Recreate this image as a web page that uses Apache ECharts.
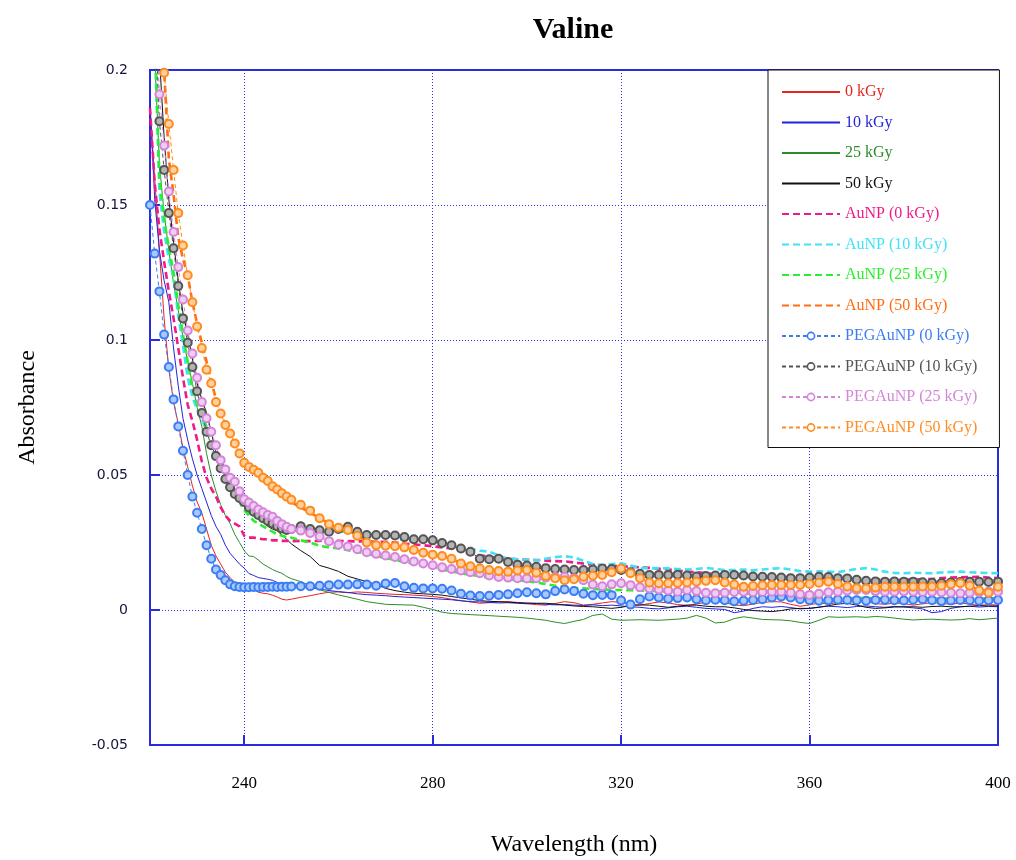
<!DOCTYPE html>
<html>
<head>
<meta charset="utf-8">
<title>Valine</title>
<script src="https://cdn.jsdelivr.net/npm/echarts@6/dist/echarts.min.js"></script>
<style>
  html, body { margin: 0; padding: 0; background: #ffffff; }
  #chart { width: 1016px; height: 860px; }
</style>
</head>
<body>
<div id="chart"></div>
<script>
// Wavelength grid (nm): 1 nm steps across the absorption edge, 2 nm steps afterwards
const wavelength = [
  220, 221, 222, 223, 224, 225, 226, 227, 228, 229,
  230, 231, 232, 233, 234, 235, 236, 237, 238, 239,
  240, 241, 242, 243, 244, 245, 246, 247, 248, 249, 250,
  252, 254, 256, 258, 260, 262, 264, 266, 268, 270,
  272, 274, 276, 278, 280, 282, 284, 286, 288, 290,
  292, 294, 296, 298, 300, 302, 304, 306, 308, 310,
  312, 314, 316, 318, 320, 322, 324, 326, 328, 330,
  332, 334, 336, 338, 340, 342, 344, 346, 348, 350,
  352, 354, 356, 358, 360, 362, 364, 366, 368, 370,
  372, 374, 376, 378, 380, 382, 384, 386, 388, 390,
  392, 394, 396, 398, 400
];

// Absorbance of valine solutions
const valine0 = [
  0.186, 0.160, 0.133, 0.108, 0.089, 0.077, 0.069, 0.060, 0.053, 0.046,
  0.040, 0.036, 0.030, 0.024, 0.020, 0.017, 0.014, 0.012, 0.0102, 0.0099,
  0.0096, 0.0085, 0.0075, 0.0066, 0.0062, 0.0060, 0.0055, 0.0048, 0.0040, 0.0037, 0.0040,
  0.0047, 0.0053, 0.0060, 0.0066, 0.0067, 0.0064, 0.0067, 0.0065, 0.0062, 0.0060,
  0.0058, 0.0057, 0.0055, 0.0053, 0.0050, 0.0046, 0.0040, 0.0035, 0.0030, 0.0025,
  0.0027, 0.0030, 0.0031, 0.0028, 0.0024, 0.0020, 0.0018, 0.0024, 0.0031, 0.0027,
  0.0018, 0.0021, 0.0026, 0.0031, 0.0028, 0.0022, 0.0018, 0.0024, 0.0030, 0.0026,
  0.0020, 0.0017, 0.0022, 0.0029, 0.0033, 0.0027, 0.0019, 0.0016, 0.0022, 0.0028,
  0.0031, 0.0030, 0.0021, 0.0014, 0.0019, 0.0026, 0.0022, 0.0028, 0.0035, 0.0037,
  0.0030, 0.0024, 0.0021, 0.0026, 0.0024, 0.0018, 0.0023, 0.0027, 0.0025, 0.0021,
  0.0026, 0.0022, 0.0017, 0.0020, 0.0018
];
const valine10 = [
  0.188, 0.152, 0.133, 0.122, 0.114, 0.097, 0.083, 0.071, 0.063, 0.056,
  0.050, 0.045, 0.040, 0.035, 0.031, 0.028, 0.024, 0.021, 0.019, 0.017,
  0.0155, 0.0135, 0.0128, 0.0120, 0.0117, 0.0114, 0.0110, 0.0102, 0.0097, 0.0093, 0.0090,
  0.0086, 0.0082, 0.0078, 0.0072, 0.0068, 0.0065, 0.0060, 0.0057, 0.0055, 0.0053,
  0.0050, 0.0048, 0.0046, 0.0044, 0.0042, 0.0040, 0.0038, 0.0034, 0.0031, 0.0030,
  0.0028, 0.0026, 0.0027, 0.0025, 0.0023, 0.0024, 0.0021, 0.0019, 0.0020, 0.0018,
  0.0017, 0.0019, 0.0016, 0.0018, 0.0015, 0.0012, 0.0010, 0.0006, 0.0004, 0.0008,
  0.0012, 0.0014, 0.0010, 0.0006, 0.0004, 0.0002, -0.0010, -0.0004, 0.0006, 0.0012,
  0.0010, 0.0013, 0.0009, 0.0004, 0.0006, 0.0011, 0.0014, 0.0012, 0.0009, 0.0013,
  0.0015, 0.0012, 0.0010, 0.0013, 0.0011, 0.0008, 0.0004, -0.0010, -0.0006, 0.0006,
  0.0012, 0.0014, 0.0011, 0.0013, 0.0012
];
const valine25 = [
  0.260, 0.205, 0.165, 0.147, 0.133, 0.121, 0.111, 0.101, 0.092, 0.084,
  0.075, 0.068, 0.058, 0.050, 0.044, 0.039, 0.035, 0.032, 0.028, 0.025,
  0.022, 0.0200, 0.0198, 0.0185, 0.0170, 0.0160, 0.0150, 0.0142, 0.0136, 0.0124, 0.0116,
  0.0105, 0.0090, 0.0075, 0.0065, 0.0056, 0.0048, 0.0040, 0.0031, 0.0026, 0.0021,
  0.0020, 0.0019, 0.0018, 0.0010, 0.0002, -0.0008, -0.0013, -0.0015, -0.0017, -0.0019,
  -0.0021, -0.0023, -0.0025, -0.0027, -0.0030, -0.0034, -0.0038, -0.0045, -0.0050, -0.0042,
  -0.0035, -0.0020, -0.0015, -0.0034, -0.0038, -0.0037, -0.0036, -0.0037, -0.0038, -0.0036,
  -0.0034, -0.0030, -0.0020, -0.0030, -0.0048, -0.0045, -0.0032, -0.0025, -0.0030, -0.0035,
  -0.0036, -0.0037, -0.0040, -0.0046, -0.0050, -0.0038, -0.0025, -0.0027, -0.0026, -0.0025,
  -0.0027, -0.0024, -0.0026, -0.0030, -0.0034, -0.0037, -0.0035, -0.0034, -0.0036, -0.0037,
  -0.0036, -0.0032, -0.0036, -0.0033, -0.0030
];
const valine50 = [
  0.270, 0.240, 0.205, 0.175, 0.152, 0.136, 0.122, 0.110, 0.102, 0.093,
  0.084, 0.078, 0.073, 0.066, 0.058, 0.054, 0.050, 0.047, 0.045, 0.042,
  0.0395, 0.0378, 0.0358, 0.0340, 0.0325, 0.0310, 0.0300, 0.0293, 0.0278, 0.0262, 0.0245,
  0.0220, 0.0198, 0.0165, 0.0155, 0.0143, 0.0125, 0.0115, 0.0105, 0.0095, 0.0080,
  0.0072, 0.0066, 0.0062, 0.0060, 0.0058, 0.0055, 0.0050, 0.0045, 0.0040, 0.0035,
  0.0032, 0.0031, 0.0029, 0.0027, 0.0026, 0.0025, 0.0025, 0.0022, 0.0018, 0.0015,
  0.0013, 0.0012, 0.0009, 0.0006, 0.0010, 0.0016, 0.0019, 0.0018, 0.0014, 0.0010,
  0.0014, 0.0018, 0.0018, 0.0014, 0.0012, 0.0012, 0.0008, 0.0002, -0.0002, -0.0004,
  -0.0006, -0.0002, 0.0004, 0.0006, 0.0006, 0.0010, 0.0016, 0.0022, 0.0025, 0.0018,
  0.0010, 0.0006, 0.0008, 0.0011, 0.0012, 0.0012, 0.0010, 0.0013, 0.0014, 0.0012,
  0.0012, 0.0014, 0.0016, 0.0015, 0.0015
];

// Valine with gold nanoparticles
const auNP0 = [
  0.186, 0.158, 0.141, 0.129, 0.118, 0.108, 0.097, 0.086, 0.076, 0.070,
  0.063, 0.055, 0.049, 0.045, 0.042, 0.038, 0.035, 0.033, 0.032, 0.031,
  0.0275, 0.0268, 0.0268, 0.0265, 0.0262, 0.0262, 0.0258, 0.0258, 0.0256, 0.0256, 0.0255,
  0.0256, 0.0255, 0.0256, 0.0257, 0.0256, 0.0255, 0.0254, 0.0254, 0.0253, 0.0253,
  0.0250, 0.0246, 0.0243, 0.0240, 0.0236, 0.0232, 0.0228, 0.0220, 0.0210, 0.0203,
  0.0198, 0.0192, 0.0190, 0.0188, 0.0186, 0.0185, 0.0183, 0.0181, 0.0180, 0.0176,
  0.0172, 0.0168, 0.0165, 0.0163, 0.0162, 0.0160, 0.0158, 0.0156, 0.0153, 0.0150,
  0.0146, 0.0142, 0.0140, 0.0136, 0.0132, 0.0128, 0.0126, 0.0124, 0.0123, 0.0124,
  0.0122, 0.0120, 0.0118, 0.0119, 0.0120, 0.0118, 0.0117, 0.0118, 0.0116, 0.0113,
  0.0112, 0.0114, 0.0110, 0.0110, 0.0112, 0.0114, 0.0113, 0.0115, 0.0118, 0.0120,
  0.0121, 0.0122, 0.0123, 0.0120, 0.0118
];
const auNP10 = [
  0.260, 0.210, 0.155, 0.140, 0.130, 0.123, 0.109, 0.098, 0.086, 0.079,
  0.074, 0.071, 0.066, 0.060, 0.056, 0.053, 0.051, 0.048, 0.044, 0.041,
  0.038, 0.036, 0.035, 0.034, 0.033, 0.032, 0.0315, 0.031, 0.0305, 0.030, 0.030,
  0.0298, 0.0296, 0.0294, 0.0295, 0.0290, 0.0290, 0.0285, 0.0280, 0.0278, 0.0278,
  0.0275, 0.0268, 0.0263, 0.0260, 0.0258, 0.0250, 0.0242, 0.0235, 0.0228, 0.0220,
  0.0216, 0.0202, 0.0190, 0.0188, 0.0186, 0.0184, 0.0190, 0.0196, 0.0199, 0.0195,
  0.0182, 0.0170, 0.0166, 0.0170, 0.0173, 0.0165, 0.0156, 0.0154, 0.0155, 0.0154,
  0.0152, 0.0150, 0.0152, 0.0156, 0.0152, 0.0148, 0.0148, 0.0150, 0.0147, 0.0150,
  0.0153, 0.0155, 0.0150, 0.0144, 0.0142, 0.0143, 0.0142, 0.0140, 0.0146, 0.0152,
  0.0155, 0.0150, 0.0142, 0.0137, 0.0136, 0.0138, 0.0137, 0.0136, 0.0139, 0.0141,
  0.0142, 0.0140, 0.0138, 0.0137, 0.0136
];
const auNP25 = [
  0.260, 0.215, 0.160, 0.145, 0.134, 0.125, 0.113, 0.102, 0.092, 0.082,
  0.076, 0.072, 0.068, 0.062, 0.058, 0.054, 0.051, 0.048, 0.045, 0.040,
  0.037, 0.035, 0.033, 0.032, 0.031, 0.030, 0.029, 0.028, 0.0275, 0.027, 0.0268,
  0.0258, 0.0250, 0.0238, 0.0232, 0.0228, 0.0222, 0.0215, 0.0208, 0.0200, 0.0192,
  0.0186, 0.0178, 0.0172, 0.0166, 0.0160, 0.0150, 0.0143, 0.0136, 0.0130, 0.0125,
  0.0120, 0.0116, 0.0112, 0.0110, 0.0107, 0.0102, 0.0096, 0.0090, 0.0086, 0.0082,
  0.0080, 0.0078, 0.0076, 0.0074, 0.0074, 0.0073, 0.0072, 0.0071, 0.0070, 0.0070,
  0.0069, 0.0069, 0.0068, 0.0068, 0.0068, 0.0068, 0.0066, 0.0062, 0.0058, 0.0056,
  0.0056, 0.0055, 0.0053, 0.0050, 0.0048, 0.0046, 0.0044, 0.0043, 0.0044, 0.0045,
  0.0044, 0.0043, 0.0044, 0.0045, 0.0044, 0.0043, 0.0044, 0.0043, 0.0042, 0.0043,
  0.0044, 0.0043, 0.0042, 0.0043, 0.0043
];
const auNP50 = [
  0.300, 0.260, 0.225, 0.200, 0.167, 0.154, 0.138, 0.130, 0.124, 0.114,
  0.106, 0.099, 0.092, 0.085, 0.078, 0.073, 0.069, 0.065, 0.061, 0.057,
  0.054, 0.052, 0.051, 0.050, 0.048, 0.047, 0.045, 0.044, 0.042, 0.041, 0.040,
  0.0380, 0.0360, 0.0340, 0.0320, 0.0300, 0.0298, 0.0275, 0.0255, 0.0245, 0.0240,
  0.0238, 0.0232, 0.0222, 0.0212, 0.0205, 0.0200, 0.0190, 0.0172, 0.0162, 0.0156,
  0.0150, 0.0144, 0.0142, 0.0145, 0.0148, 0.0138, 0.0128, 0.0120, 0.0112, 0.0116,
  0.0124, 0.0128, 0.0130, 0.0140, 0.0152, 0.0136, 0.0120, 0.0104, 0.0100, 0.0100,
  0.0101, 0.0102, 0.0105, 0.0108, 0.0110, 0.0104, 0.0096, 0.0088, 0.0090, 0.0093,
  0.0094, 0.0093, 0.0094, 0.0093, 0.0096, 0.0101, 0.0105, 0.0096, 0.0088, 0.0082,
  0.0080, 0.0084, 0.0086, 0.0087, 0.0086, 0.0087, 0.0088, 0.0087, 0.0090, 0.0096,
  0.0100, 0.0090, 0.0072, 0.0065, 0.0085
];

// Valine with PEG-coated gold nanoparticles
const pegAuNP0 = [
  0.150, 0.132, 0.118, 0.102, 0.090, 0.078, 0.068, 0.059, 0.050, 0.042,
  0.036, 0.030, 0.024, 0.019, 0.015, 0.013, 0.011, 0.0095, 0.0088, 0.0085,
  0.0084, 0.0084, 0.0085, 0.0084, 0.0085, 0.0085, 0.0086, 0.0085, 0.0086, 0.0086, 0.0087,
  0.0088, 0.0088, 0.0090, 0.0092, 0.0094, 0.0094, 0.0095, 0.0094, 0.0090, 0.0098,
  0.0100, 0.0088, 0.0082, 0.0080, 0.0080, 0.0079, 0.0072, 0.0060, 0.0054, 0.0052,
  0.0053, 0.0056, 0.0058, 0.0062, 0.0066, 0.0062, 0.0058, 0.0070, 0.0076, 0.0070,
  0.0060, 0.0055, 0.0056, 0.0055, 0.0035, 0.0020, 0.0040, 0.0050, 0.0046, 0.0042,
  0.0044, 0.0046, 0.0040, 0.0036, 0.0038, 0.0036, 0.0032, 0.0034, 0.0037, 0.0040,
  0.0046, 0.0050, 0.0046, 0.0040, 0.0036, 0.0034, 0.0036, 0.0038, 0.0037, 0.0036,
  0.0034, 0.0037, 0.0038, 0.0036, 0.0035, 0.0038, 0.0040, 0.0036, 0.0033, 0.0035,
  0.0037, 0.0036, 0.0034, 0.0036, 0.0037
];
const pegAuNP10 = [
  0.270, 0.225, 0.181, 0.163, 0.147, 0.134, 0.120, 0.108, 0.099, 0.090,
  0.081, 0.073, 0.066, 0.061, 0.057, 0.0525, 0.0485, 0.0455, 0.043, 0.0415,
  0.0400, 0.0380, 0.0364, 0.0352, 0.0340, 0.0330, 0.0320, 0.0310, 0.0302, 0.0296, 0.0300,
  0.0310, 0.0300, 0.0295, 0.0290, 0.0300, 0.0308, 0.0290, 0.0278, 0.0278, 0.0278,
  0.0276, 0.0270, 0.0262, 0.0262, 0.0258, 0.0248, 0.0240, 0.0228, 0.0216, 0.0190,
  0.0188, 0.0190, 0.0178, 0.0168, 0.0165, 0.0160, 0.0155, 0.0152, 0.0150, 0.0148,
  0.0148, 0.0150, 0.0154, 0.0152, 0.0148, 0.0140, 0.0134, 0.0130, 0.0130, 0.0130,
  0.0131, 0.0128, 0.0124, 0.0126, 0.0128, 0.0130, 0.0130, 0.0128, 0.0124, 0.0123,
  0.0122, 0.0120, 0.0118, 0.0118, 0.0120, 0.0123, 0.0122, 0.0118, 0.0117, 0.0112,
  0.0108, 0.0106, 0.0105, 0.0106, 0.0105, 0.0105, 0.0103, 0.0101, 0.0100, 0.0102,
  0.0104, 0.0105, 0.0105, 0.0104, 0.0105
];
const pegAuNP25 = [
  0.280, 0.235, 0.191, 0.172, 0.155, 0.140, 0.127, 0.115, 0.1035, 0.095,
  0.086, 0.077, 0.071, 0.066, 0.061, 0.0555, 0.052, 0.049, 0.0475, 0.044,
  0.0410, 0.0398, 0.0385, 0.0372, 0.0362, 0.0352, 0.0345, 0.0330, 0.0318, 0.0308, 0.0300,
  0.0294, 0.0285, 0.0272, 0.0255, 0.0242, 0.0235, 0.0225, 0.0214, 0.0208, 0.0202,
  0.0196, 0.0188, 0.0180, 0.0172, 0.0166, 0.0158, 0.0152, 0.0146, 0.0140, 0.0136,
  0.0128, 0.0122, 0.0120, 0.0118, 0.0117, 0.0118, 0.0120, 0.0122, 0.0123, 0.0118,
  0.0110, 0.0094, 0.0088, 0.0095, 0.0099, 0.0092, 0.0084, 0.0080, 0.0076, 0.0072,
  0.0068, 0.0074, 0.0070, 0.0064, 0.0062, 0.0064, 0.0067, 0.0068, 0.0066, 0.0067,
  0.0068, 0.0068, 0.0064, 0.0058, 0.0056, 0.0060, 0.0066, 0.0068, 0.0071, 0.0074,
  0.0074, 0.0070, 0.0068, 0.0068, 0.0069, 0.0068, 0.0067, 0.0068, 0.0066, 0.0064,
  0.0062, 0.0064, 0.0066, 0.0068, 0.0068
];
const pegAuNP50 = [
  0.300, 0.255, 0.222, 0.199, 0.180, 0.163, 0.147, 0.135, 0.124, 0.114,
  0.105, 0.097, 0.089, 0.084, 0.077, 0.0728, 0.0685, 0.0654, 0.0617, 0.058,
  0.0545, 0.0530, 0.0519, 0.0508, 0.0490, 0.0478, 0.0458, 0.0446, 0.0432, 0.0420, 0.0408,
  0.0390, 0.0368, 0.0340, 0.0318, 0.0305, 0.0296, 0.0275, 0.0250, 0.0240, 0.0238,
  0.0236, 0.0232, 0.0222, 0.0212, 0.0205, 0.0200, 0.0190, 0.0172, 0.0162, 0.0154,
  0.0148, 0.0144, 0.0142, 0.0146, 0.0148, 0.0138, 0.0126, 0.0118, 0.0110, 0.0114,
  0.0123, 0.0127, 0.0130, 0.0140, 0.0154, 0.0136, 0.0118, 0.0102, 0.0099, 0.0099,
  0.0100, 0.0102, 0.0105, 0.0108, 0.0110, 0.0102, 0.0094, 0.0086, 0.0089, 0.0092,
  0.0093, 0.0093, 0.0093, 0.0093, 0.0096, 0.0101, 0.0105, 0.0096, 0.0087, 0.0081,
  0.0080, 0.0083, 0.0086, 0.0086, 0.0086, 0.0086, 0.0087, 0.0087, 0.0090, 0.0095,
  0.0099, 0.0090, 0.0072, 0.0064, 0.0086
];

const seriesNames = [
  '0 kGy', '10 kGy', '25 kGy', '50 kGy',
  'AuNP (0 kGy)', 'AuNP (10 kGy)', 'AuNP (25 kGy)', 'AuNP (50 kGy)',
  'PEGAuNP (0 kGy)', 'PEGAuNP (10 kGy)', 'PEGAuNP (25 kGy)', 'PEGAuNP (50 kGy)'
];
const seriesValues = [
  valine0, valine10, valine25, valine50,
  auNP0, auNP10, auNP25, auNP50,
  pegAuNP0, pegAuNP10, pegAuNP25, pegAuNP50
];
const wavelengthTicks = [240, 280, 320, 360, 400];

// Drawing style of each curve: thin solid, thick dashed, or dashed with ring markers
const curveStyles = [
  { kind: 'solid', color: '#e8231e' },
  { kind: 'solid', color: '#2323d9' },
  { kind: 'solid', color: '#2b8c2b' },
  { kind: 'solid', color: '#111111' },
  { kind: 'dash', color: '#f01b86' },
  { kind: 'dash', color: '#3fe3f5' },
  { kind: 'dash', color: '#2cee2c' },
  { kind: 'dash', color: '#ff6c12' },
  { kind: 'marker', color: '#3b7df5', fill: '#a9c8ff' },
  { kind: 'marker', color: '#555555', fill: '#b4b4b4' },
  { kind: 'marker', color: '#d585d9', fill: '#f0cdf2' },
  { kind: 'marker', color: '#ff8c1e', fill: '#ffd0a0' }
];

const serif = 'Liberation Serif, Times New Roman, serif';
const frameBlue = '#2a2ae0';

const series = seriesNames.map(function (name, i) {
  const st = curveStyles[i];
  const s = {
    name: name,
    type: 'line',
    data: wavelength.map(function (w, j) { return [w, seriesValues[i][j]]; }),
    color: st.color,
    animation: false,
    clip: true
  };
  if (st.kind === 'solid') {
    s.symbol = 'none';
    s.lineStyle = { width: 1, color: st.color };
  } else if (st.kind === 'dash') {
    s.symbol = 'none';
    s.lineStyle = { width: 2.6, type: [7, 4], color: st.color };
  } else {
    s.symbol = 'circle';
    s.symbolSize = 8;
    s.showSymbol = true;
    s.showAllSymbol = true;
    s.itemStyle = { color: st.fill, borderColor: st.color, borderWidth: 2 };
    s.lineStyle = { width: 1, type: [4, 3], color: st.color };
  }
  return s;
});

// Legend entries: plain curves show only their line sample, marker curves show line and ring
const legendEntries = seriesNames.map(function (n, i) {
  const st = curveStyles[i];
  const entry = { name: n, textStyle: { color: st.color } };
  if (st.kind !== 'marker') {
    entry.itemStyle = { opacity: 0 };
  } else {
    entry.itemStyle = { color: '#ffffff', borderColor: st.color, borderWidth: 1.6 };
  }
  return entry;
});

const chart = echarts.init(document.getElementById('chart'), null, { renderer: 'canvas' });
chart.setOption({
  backgroundColor: '#ffffff',
  animation: false,
  title: {
    text: 'Valine',
    left: 568,
    top: 10,
    textAlign: 'center',
    textStyle: { fontFamily: serif, fontWeight: 'bold', fontSize: 30, color: '#000' }
  },
  grid: {
    left: 150, right: 18, top: 70, bottom: 115,
    outerBoundsMode: 'none',
    containLabel: false,
    show: true,
    borderColor: frameBlue,
    borderWidth: 2,
    backgroundColor: 'transparent'
  },
  legend: {
    orient: 'vertical',
    left: 768,
    top: 70,
    padding: [14, 22, 12, 13],
    itemWidth: 58,
    itemHeight: 9,
    itemGap: 14.5,
    backgroundColor: '#ffffff',
    borderColor: '#111111',
    borderWidth: 1,
    selectedMode: false,
    textStyle: { fontFamily: serif, fontSize: 16 },
    data: legendEntries
  },
  xAxis: {
    type: 'value',
    min: 220,
    max: 400,
    name: 'Wavelength (nm)',
    nameLocation: 'middle',
    nameGap: 88,
    nameTextStyle: { fontFamily: serif, fontSize: 24, color: '#000' },
    axisLine: { show: true, onZero: false, lineStyle: { color: frameBlue, width: 2 } },
    axisTick: { show: true, inside: true, length: 10, customValues: wavelengthTicks, lineStyle: { color: frameBlue, width: 2 } },
    axisLabel: { customValues: wavelengthTicks, margin: 30, fontFamily: serif, fontSize: 17, color: '#000' },
    splitLine: { show: true, lineStyle: { color: '#2f2ff0', width: 1, type: [1, 2] } }
  },
  yAxis: {
    type: 'value',
    min: -0.05,
    max: 0.2,
    interval: 0.05,
    name: 'Absorbance',
    nameLocation: 'middle',
    nameGap: 110,
    nameRotate: 90,
    nameTextStyle: { fontFamily: serif, fontSize: 24, color: '#000' },
    axisLine: { show: true, onZero: false, lineStyle: { color: frameBlue, width: 2 } },
    axisTick: { show: true, inside: true, length: 10, lineStyle: { color: frameBlue, width: 2 } },
    axisLabel: {
      margin: 22,
      fontFamily: 'DejaVu Sans, sans-serif',
      fontSize: 14,
      color: '#14143c',
      formatter: function (v) { return String(Math.round(v * 100) / 100); }
    },
    splitLine: { show: true, lineStyle: { color: '#2f2ff0', width: 1, type: [1, 2] } }
  },
  series: series
});
</script>
</body>
</html>
